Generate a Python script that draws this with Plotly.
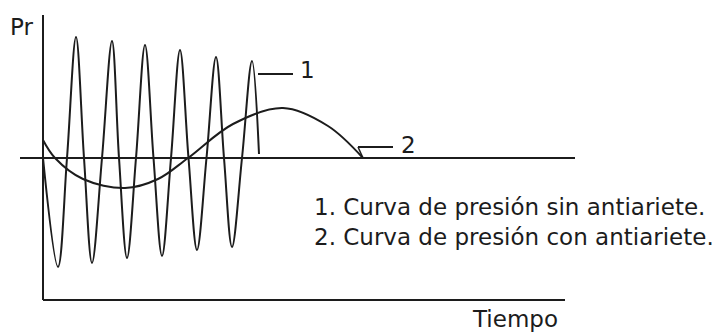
import plotly.graph_objects as go

# Curve 1: pressure without water-hammer protection (extrema and zero crossings)
t_sin = [0, 1.5, 2.4, 3.3, 4.1, 4.9, 5.9, 6.9, 7.6, 8.4, 9.3, 10.2, 11.05, 11.9,
         12.8, 13.7, 14.55, 15.4, 16.35, 17.3, 18.1, 18.9, 19.9, 20.9, 21.6]
p_sin = [0, -10.9, 0, 12.1, 0, -10.5, 0, 11.7, 0, -10.0, 0, 11.3, 0, -9.8,
         0, 10.8, 0, -9.2, 0, 10.1, 0, -8.9, 0, 9.7, 0.4]

# Curve 2: pressure with water-hammer protection
t_con = [0, 1.2, 4.0, 8.2, 11.5, 14.5, 19.0, 24.0, 28.5, 32.0]
p_con = [1.8, 0, -2.1, -3.0, -2.1, 0, 3.4, 5.0, 3.2, 0]

legend_lines = ["1. Curva de presión sin antiariete.",
                "2. Curva de presión con antiariete."]

INK = "#1c1c1c"
FONT = "DejaVu Sans, Verdana, sans-serif"

fig = go.Figure()
fig.add_trace(go.Scatter(x=t_sin, y=p_sin, mode="lines",
                         line=dict(color=INK, width=2, shape="spline", smoothing=1.0),
                         hoverinfo="skip"))
fig.add_trace(go.Scatter(x=t_con, y=p_con, mode="lines",
                         line=dict(color=INK, width=2, shape="spline", smoothing=1.0),
                         hoverinfo="skip"))

line = dict(color=INK, width=2)
# axes drawn by hand like the scanned figure
fig.add_shape(type="line", x0=0, x1=0, y0=-14.2, y1=14.3, line=line)
fig.add_shape(type="line", x0=0, x1=52.2, y0=-14.2, y1=-14.2, line=line)
fig.add_shape(type="line", x0=-2.3, x1=53.2, y0=0, y1=0, line=line)
# leaders for labels 1 and 2
fig.add_shape(type="line", x0=21.5, x1=25.0, y0=8.4, y1=8.4, line=line)
fig.add_shape(type="line", x0=31.5, x1=35.0, y0=1.1, y1=1.1, line=line)
fig.add_shape(type="line", x0=31.5, x1=32.0, y0=1.1, y1=0, line=dict(color=INK, width=1.5))

ann = dict(showarrow=False, font=dict(family=FONT, size=23, color=INK))
fig.add_annotation(x=26.4, y=8.8, text="1", xanchor="center", **ann)
fig.add_annotation(x=36.5, y=1.3, text="2", xanchor="center", **ann)
fig.add_annotation(x=-3.5, y=13.1, text="Pr", xanchor="left", **ann)
fig.add_annotation(x=26.9, y=-4.9, text=legend_lines[0], xanchor="left", **ann)
fig.add_annotation(x=26.9, y=-7.9, text=legend_lines[1], xanchor="left", **ann)
fig.add_annotation(x=42.7, y=-16.1, text="Tiempo", xanchor="left", **ann)

fig.update_layout(
    width=717, height=325,
    margin=dict(l=0, r=0, t=0, b=0),
    paper_bgcolor="white", plot_bgcolor="white",
    showlegend=False,
)
fig.update_xaxes(range=[-3.5, 68.2], visible=False)
fig.update_yaxes(range=[-17.5, 15.0], visible=False)

fig.write_html("out.html")
